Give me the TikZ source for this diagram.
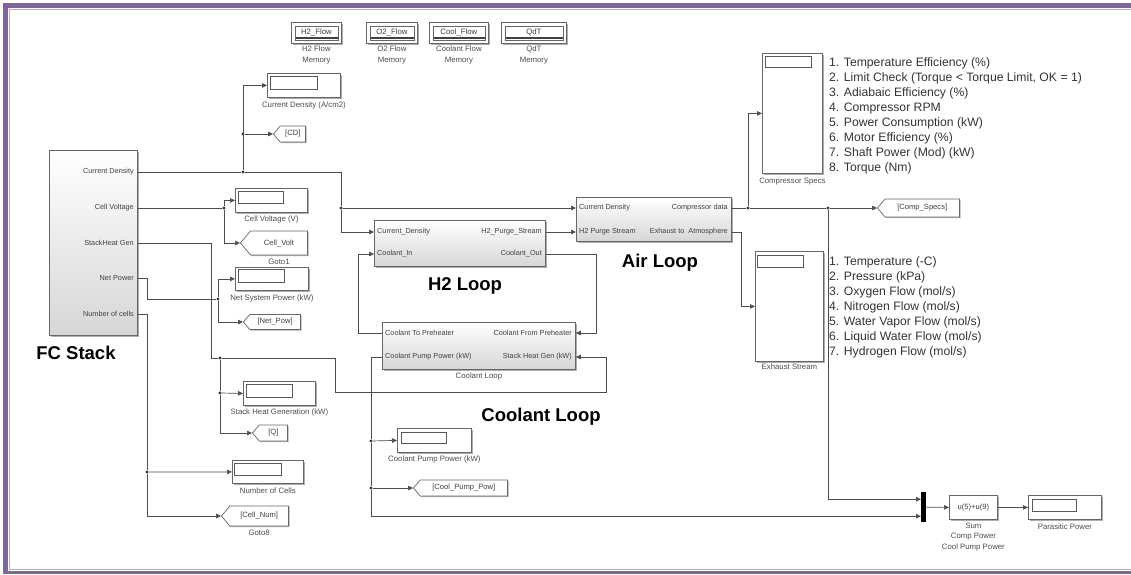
\documentclass[tikz,border=0pt]{standalone}
\usepackage{fontspec}
\setmainfont{Liberation Sans}
\usetikzlibrary{arrows.meta,positioning,shapes.symbols,shadows}

\definecolor{framepurple}{RGB}{128,100,162}

\tikzset{
	wire/.style={draw=black!70, line width=0.7pt},
	sig/.style={wire, -{Triangle[length=5pt,width=4.5pt]}},
	jn/.style={circle, fill=black!80, inner sep=0pt, minimum size=3.2pt},
	blk/.style={draw=black!60, line width=0.8pt, inner sep=0pt, anchor=north west,
		drop shadow={shadow xshift=1.5pt, shadow yshift=-1.5pt, fill=black!40, opacity=0.8}},
	subsys/.style={blk, top color=white, bottom color=black!16},
	disp/.style={blk, fill=white},
	lcd/.style={draw=black!65, fill=white, line width=0.6pt, inner sep=0pt, anchor=north west},
	gototag/.style={signal, signal to=west, signal pointer angle=100, draw=black!60, fill=white,
		line width=0.7pt, inner sep=0pt, anchor=west, text=black!75,
		font=\fontsize{7.6}{9}\selectfont,
		drop shadow={shadow xshift=1.2pt, shadow yshift=-1.2pt, fill=black!40, opacity=0.8}},
	memblk/.style={blk, fill=white},
	memin/.style={draw=black!60, line width=0.5pt, inner sep=0pt, text=black!75,
		font=\fontsize{7.8}{9}\selectfont,
		path picture={\draw[black!75, line width=1.3pt]
			([yshift=2pt]path picture bounding box.south west) --
			([yshift=2pt]path picture bounding box.south east);}},
	port/.style={inner sep=0pt, text=black!75, font=\fontsize{7.3}{8}\selectfont},
	blklabel/.style={inner sep=0pt, text=black!70, align=center, font=\fontsize{7.8}{10.5}\selectfont},
	bigname/.style={inner sep=0pt, font=\fontsize{18.5}{20}\selectfont\bfseries},
	listtxt/.style={inner sep=0pt, anchor=north west, align=left, text=black!80,
		font=\fontsize{12.2}{15.1}\selectfont},
}

\begin{document}
\begin{tikzpicture}[x=1pt, y=-1pt]
	\useasboundingbox (0,0) rectangle (1131,574);
	% window frame
	\fill[framepurple] (3,3) rectangle (1131,7.5);
	\fill[framepurple] (3,3) rectangle (8,574);
	\fill[framepurple] (3,570.5) rectangle (1131,574);
	\draw[black!30, line width=0.8pt] (1131,9.5) -- (9.5,9.5) -- (9.5,569) -- (1131,569);

	% data store memories
	\node[memblk, minimum width=50pt, minimum height=21pt] (h2mem) at (291,22) {};
	\node[memin, minimum width=43pt, minimum height=14pt] (h2memin) at (h2mem) {H2\_Flow};
	\node[blklabel, below=2pt of h2mem] (h2memlbl) {H2 Flow\\Memory};
	\node[memblk, minimum width=51pt, minimum height=21pt] (o2mem) at (366,22) {};
	\node[memin, minimum width=44pt, minimum height=14pt] (o2memin) at (o2mem) {O2\_Flow};
	\node[blklabel, below=2pt of o2mem] (o2memlbl) {O2 Flow\\Memory};
	\node[memblk, minimum width=59pt, minimum height=21pt] (clmem) at (429,22) {};
	\node[memin, minimum width=52pt, minimum height=14pt] (clmemin) at (clmem) {Cool\_Flow};
	\node[blklabel, below=2pt of clmem] (clmemlbl) {Coolant Flow\\Memory};
	\node[memblk, minimum width=65pt, minimum height=21pt] (qmem) at (501,22) {};
	\node[memin, minimum width=58pt, minimum height=14pt] (qmemin) at (qmem) {QdT};
	\node[blklabel, below=2pt of qmem] (qmemlbl) {QdT\\Memory};

	% fuel cell stack
	\node[subsys, minimum width=88pt, minimum height=185pt] (fc) at (49,150) {};
	\node[port, anchor=east] (fccd) at (134,172) {Current Density};
	\node[port, anchor=east] (fccv) at (134,208) {Cell Voltage};
	\node[port, anchor=east] (fchg) at (134,243) {StackHeat Gen};
	\node[port, anchor=east] (fcnp) at (134,278) {Net Power};
	\node[port, anchor=east] (fcnc) at (134,314) {Number of cells};
	\node[bigname] (fcname) at (76,353) {FC Stack};

	% H2 loop
	\node[subsys, minimum width=171pt, minimum height=46pt] (h2) at (374,220) {};
	\node[port, anchor=west] (h2cd) at (377,232) {Current\_Density};
	\node[port, anchor=west] (h2ci) at (377,254) {Coolant\_In};
	\node[port, anchor=east] (h2ps) at (542,232) {H2\_Purge\_Stream};
	\node[port, anchor=east] (h2co) at (542,254) {Coolant\_Out};
	\node[bigname] (h2name) at (465,286) {H2 Loop};

	% air loop
	\node[subsys, minimum width=155pt, minimum height=44pt] (ac) at (576,197) {};
	\node[port, anchor=west] (accd) at (579,208) {Current Density};
	\node[port, anchor=west] (acps) at (579,232) {H2 Purge Stream};
	\node[port, anchor=east] (accm) at (728,208) {Compressor data};
	\node[port, anchor=east] (acex) at (728,232) {Exhaust to\ \ Atmosphere};
	\node[bigname] (acname) at (660,263) {Air Loop};

	% coolant loop (flipped inputs on the right)
	\node[subsys, minimum width=193pt, minimum height=47pt] (cl) at (382,322) {};
	\node[port, anchor=west] (cltp) at (385,333) {Coolant To Preheater};
	\node[port, anchor=west] (clpp) at (385,357) {Coolant Pump Power (kW)};
	\node[port, anchor=east] (clfp) at (572,333) {Coolant From Preheater};
	\node[port, anchor=east] (clhg) at (572,357) {Stack Heat Gen (kW)};
	\node[blklabel, below=3pt of cl] (cllbl) {Coolant Loop};
	\node[bigname] (clname) at (541,417) {Coolant Loop};

	% displays
	\node[disp, minimum width=73pt, minimum height=24pt] (cddisp) at (267,73) {};
	\node[lcd, minimum width=47pt, minimum height=13pt] (cdlcd) at ([xshift=3pt,yshift=-3pt]cddisp.north west) {};
	\node[blklabel, below=4pt of cddisp] (cdlbl) {Current Density (A/cm2)};
	\node[disp, minimum width=72pt, minimum height=24pt] (cvdisp) at (235,188) {};
	\node[lcd, minimum width=45pt, minimum height=12pt] (cvlcd) at ([xshift=3pt,yshift=-3pt]cvdisp.north west) {};
	\node[blklabel, below=3pt of cvdisp] (cvlbl) {Cell Voltage (V)};
	\node[disp, minimum width=73pt, minimum height=23pt] (npdisp) at (235,267) {};
	\node[lcd, minimum width=46pt, minimum height=13pt] (nplcd) at ([xshift=3pt,yshift=-2pt]npdisp.north west) {};
	\node[blklabel, below=4pt of npdisp] (nplbl) {Net System Power (kW)};
	\node[disp, minimum width=72pt, minimum height=24pt] (hgdisp) at (243,381) {};
	\node[lcd, minimum width=46pt, minimum height=13pt] (hglcd) at ([xshift=3pt,yshift=-3pt]hgdisp.north west) {};
	\node[blklabel, below=3pt of hgdisp] (hglbl) {Stack Heat Generation (kW)};
	\node[disp, minimum width=71pt, minimum height=23pt] (ncdisp) at (232,460) {};
	\node[lcd, minimum width=47pt, minimum height=12pt] (nclcd) at ([xshift=2pt,yshift=-3pt]ncdisp.north west) {};
	\node[blklabel, below=4pt of ncdisp] (nclbl) {Number of Cells};
	\node[disp, minimum width=74pt, minimum height=24pt] (ppdisp) at (397,428) {};
	\node[lcd, minimum width=45pt, minimum height=11pt] (pplcd) at ([xshift=4pt,yshift=-4pt]ppdisp.north west) {};
	\node[blklabel, below=3pt of ppdisp] (pplbl) {Coolant Pump Power (kW)};

	% scopes
	\node[disp, minimum width=60pt, minimum height=120pt] (csscope) at (762,53) {};
	\node[lcd, minimum width=46pt, minimum height=11pt] (cslcd) at ([xshift=3pt,yshift=-3pt]csscope.north west) {};
	\node[blklabel, below=4pt of csscope] (cslbl) {Compressor Specs};
	\node[listtxt] (cslist) at (829,57) {1. Temperature Efficiency (\%)\\
		2. Limit Check (Torque < Torque Limit, OK = 1)\\
		3. Adiabaic Efficiency (\%)\\
		4. Compressor RPM\\
		5. Power Consumption (kW)\\
		6. Motor Efficiency (\%)\\
		7. Shaft Power (Mod) (kW)\\
		8. Torque (Nm)};
	\node[disp, minimum width=68pt, minimum height=110pt] (exscope) at (755,251) {};
	\node[lcd, minimum width=46pt, minimum height=12pt] (exlcd) at ([xshift=2pt,yshift=-4pt]exscope.north west) {};
	\node[blklabel, below=2pt of exscope] (exlbl) {Exhaust Stream};
	\node[listtxt] (exlist) at (829,256) {1. Temperature (-C)\\
		2. Pressure (kPa)\\
		3. Oxygen Flow (mol/s)\\
		4. Nitrogen Flow (mol/s)\\
		5. Water Vapor Flow (mol/s)\\
		6. Liquid Water Flow (mol/s)\\
		7. Hydrogen Flow (mol/s)};

	% goto tags
	\node[gototag, minimum width=32pt, minimum height=16pt] (cdtag) at (273,134) {[CD]};
	\node[gototag, minimum width=67pt, minimum height=24pt] (cvtag) at (240,243) {Cell\_Volt};
	\node[blklabel, below=3pt of cvtag] (cvtaglbl) {Goto1};
	\node[gototag, minimum width=57pt, minimum height=15pt] (nptag) at (243,322) {[Net\_Pow]};
	\node[gototag, minimum width=35pt, minimum height=16pt] (qtag) at (252,433) {[Q]};
	\node[gototag, minimum width=67pt, minimum height=20pt] (cntag) at (221,516) {[Cell\_Num]};
	\node[blklabel, below=3pt of cntag] (cntaglbl) {Goto8};
	\node[gototag, minimum width=94pt, minimum height=16pt] (pptag) at (413,488) {[Cool\_Pump\_Pow]};
	\node[gototag, minimum width=82pt, minimum height=18pt] (cstag) at (877,208) {[Comp\_Specs]};

	% parasitic power
	\node[fill=black, anchor=north west, inner sep=0pt, minimum width=5pt, minimum height=30pt] (mux) at (921,492) {};
	\node[disp, minimum width=48pt, minimum height=24pt, font=\fontsize{7.6}{9}\selectfont, text=black!75] (fcn) at (949,495) {u(5)+u(9)};
	\node[blklabel, below=3pt of fcn] (fcnlbl) {Sum\\Comp Power\\Cool Pump Power};
	\node[disp, minimum width=73pt, minimum height=24pt] (pwdisp) at (1028,495) {};
	\node[lcd, minimum width=44pt, minimum height=12pt] (pwlcd) at ([xshift=4pt,yshift=-4pt]pwdisp.north west) {};
	\node[blklabel, below=4pt of pwdisp] (pwlbl) {Parasitic Power};

	% branch points and bends
	\node[jn] (j1) at (243,172) {};
	\node[jn] (j2) at (243,134) {};
	\node[jn] (j3) at (341,208) {};
	\node[jn] (j4) at (224,208) {};
	\node[jn] (j5) at (220,358) {};
	\node[jn] (j6) at (220,393) {};
	\node[jn] (j7) at (218,299) {};
	\node[jn] (j8) at (147,472) {};
	\node[jn] (j9) at (371,441) {};
	\node[jn] (j10) at (371,488) {};
	\node[jn] (j11) at (748,208) {};
	\node[jn] (j12) at (828,208) {};
	\coordinate (b1) at (211,358);
	\coordinate (b2) at (335,392);
	\coordinate (b3) at (606,392);
	\coordinate (b4) at (147,299);
	\coordinate (b5) at (596,333);
	\coordinate (b6) at (358,254);
	\coordinate (b7) at (741,232);

	% current density
	\draw[wire] (fc.east |- fccd) -- (j1);
	\draw[sig] (j1) |- (cddisp.west);
	\draw[sig] (j2) -- (cdtag.west);
	\draw[wire] (j1) -| (j3);
	\draw[sig] (j3) |- (h2.west |- h2cd);
	\draw[sig] (j3) -- (ac.west |- accd);
	% cell voltage
	\draw[wire] (fc.east |- fccv) -- (j4);
	\draw[sig] (j4) |- (cvdisp.west);
	\draw[sig] (j4) |- (cvtag.west);
	% stack heat
	\draw[wire] (fc.east |- fchg) -| (b1) -- (j5);
	\draw[sig] (j5) -| (b2) -- (b3) |- (cl.east |- clhg);
	\draw[wire] (j5) -- (j6);
	\draw[sig] (j6) -- (hgdisp.west);
	\draw[sig] (j6) |- (qtag.west);
	% net power
	\draw[wire] (fc.east |- fcnp) -| (b4) -- (j7);
	\draw[sig] (j7) |- (npdisp.west);
	\draw[sig] (j7) |- (nptag.west);
	% number of cells
	\draw[wire] (fc.east |- fcnc) -| (j8);
	\draw[sig] (j8) -- (ncdisp.west);
	\draw[sig] (j8) |- (cntag.west);
	% loops
	\draw[sig] (h2.east |- h2ps) -- (ac.west |- acps);
	\draw[sig] (h2.east |- h2co) -| (b5) -- (cl.east |- clfp);
	\draw[sig] (cl.west |- cltp) -| (b6) -- (h2.west |- h2ci);
	% coolant pump power
	\draw[wire] (cl.west |- clpp) -| (j9);
	\draw[sig] (j9) -- (ppdisp.west);
	\draw[wire] (j9) -- (j10);
	\draw[sig] (j10) -- (pptag.west);
	\draw[sig] (j10) |- ([yshift=-9pt]mux.west);
	% compressor and exhaust
	\draw[wire] (ac.east |- accm) -- (j11);
	\draw[sig] (j11) |- (csscope.west);
	\draw[wire] (j11) -- (j12);
	\draw[sig] (j12) -- (cstag.west);
	\draw[sig] (j12) |- ([yshift=8pt]mux.west);
	\draw[sig] (ac.east |- acex) -- (b7) |- (exscope.west);
	% sum and display
	\draw[sig] (mux.east) -- (fcn.west);
	\draw[sig] (fcn.east) -- (pwdisp.west);
\end{tikzpicture}
\end{document}
